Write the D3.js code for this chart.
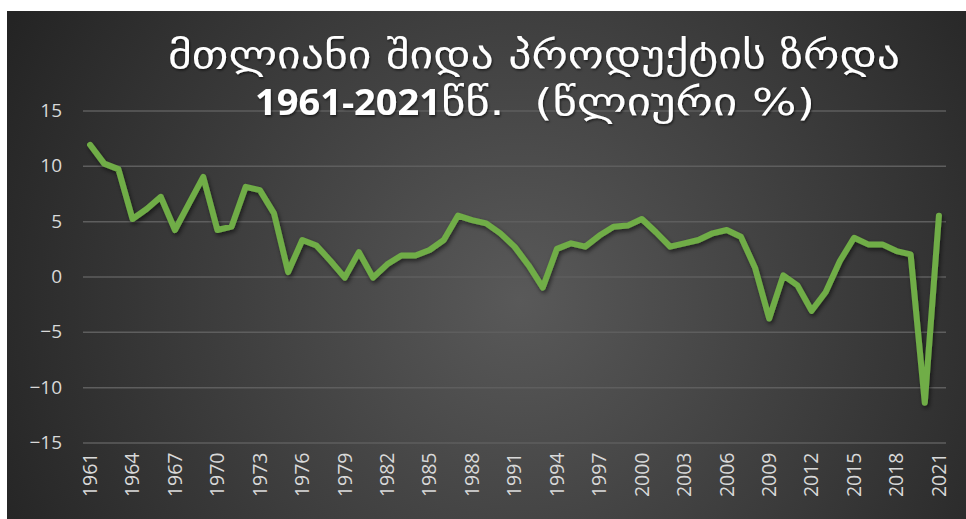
<!DOCTYPE html>
<html lang="ka">
<head>
	<meta charset="UTF-8">
	<title>GDP growth</title>
	<script src="https://cdn.jsdelivr.net/npm/d3@7"></script>
	<style>
		body { margin: 0; background: #fff; }
	</style>
</head>
<body>
	<svg id="svg"></svg>
	<script>
		// data
		var years = d3.range(1961, 2022);
		var growth = [11.9, 10.2, 9.7, 5.2, 6.1, 7.2, 4.2, 6.6, 9.0, 4.2,
			4.5, 8.1, 7.8, 5.7, 0.4, 3.3, 2.8, 1.4, -0.1, 2.2,
			-0.1, 1.1, 1.9, 1.9, 2.4, 3.3, 5.5, 5.1, 4.8, 3.9,
			2.7, 1.0, -1.0, 2.5, 3.0, 2.7, 3.7, 4.5, 4.6, 5.2,
			4.0, 2.7, 3.0, 3.3, 3.9, 4.2, 3.6, 0.8, -3.8, 0.1,
			-0.8, -3.1, -1.4, 1.4, 3.5, 2.9, 2.9, 2.3, 2.0, -11.4,
			5.5];
		var yTicks = [-15, -10, -5, 0, 5, 10, 15];
		var titleLines = ["მთლიანი შიდა პროდუქტის ზრდა", "1961-2021წწ.  (წლიური %)"];

		var w = 966, h = 519,
			svg = d3.select("#svg").attr("width", w).attr("height", h);

		var defs = svg.append("defs");
		var grad = defs.append("radialGradient").attr("id", "bg")
			.attr("gradientUnits", "userSpaceOnUse")
			.attr("cx", 520).attr("cy", 300).attr("r", 580);
		grad.append("stop").attr("offset", "0").attr("stop-color", "#595959");
		grad.append("stop").attr("offset", "1").attr("stop-color", "#242424");

		var shadow = defs.append("filter").attr("id", "shadow")
			.attr("x", "-10%").attr("y", "-10%").attr("width", "120%").attr("height", "120%");
		shadow.append("feDropShadow").attr("dx", 1.5).attr("dy", 2.5)
			.attr("stdDeviation", 2).attr("flood-color", "#000").attr("flood-opacity", 0.55);

		var tshadow = defs.append("filter").attr("id", "tshadow");
		tshadow.append("feDropShadow").attr("dx", 1).attr("dy", 1.5)
			.attr("stdDeviation", 1).attr("flood-color", "#000").attr("flood-opacity", 0.6);

		svg.append("rect").attr("x", 7).attr("y", 11)
			.attr("width", w - 7).attr("height", h - 11)
			.attr("fill", "url(#bg)");

		var x = d3.scaleBand().domain(years).range([83, 946]),
			y = d3.scaleLinear().domain([-15, 15]).range([442.5, 110.5]);

		// y axis + gridlines
		var yAxis = svg.append("g").attr("transform", "translate(83,0)")
			.call(d3.axisLeft(y).tickValues(yTicks).tickSize(-(946 - 83)).tickPadding(21));
		yAxis.select(".domain").remove();
		yAxis.selectAll("line").attr("stroke", "#5e5e5e").attr("stroke-width", 1.5);
		yAxis.selectAll("text").attr("fill", "#d9d9d9")
			.style("font-family", "'Open Sans', sans-serif").style("font-size", "19px");

		// x labels, every third year
		var xAxis = svg.append("g").attr("transform", "translate(0,442.5)")
			.call(d3.axisBottom(x).tickValues(years.filter(function(d) { return (d - 1961) % 3 == 0; }))
				.tickSize(0).tickPadding(0));
		xAxis.select(".domain").remove();
		xAxis.selectAll("text")
			.attr("fill", "#d9d9d9")
			.attr("text-anchor", "end")
			.attr("dy", "0.35em")
			.attr("transform", "translate(0,10) rotate(-90)")
			.attr("y", 0)
			.style("font-family", "'Open Sans', sans-serif").style("font-size", "19.5px");

		// line
		var line = d3.line()
			.x(function(d, i) { return x(years[i]) + x.bandwidth() / 2; })
			.y(function(d) { return y(d); });
		svg.append("path").datum(growth)
			.attr("d", line)
			.attr("fill", "none")
			.attr("stroke", "#70ad47")
			.attr("stroke-width", 6)
			.attr("stroke-linejoin", "round")
			.attr("stroke-linecap", "round")
			.attr("filter", "url(#shadow)");

		// title
		svg.append("text").attr("x", 534).attr("y", 68)
			.attr("text-anchor", "middle").attr("fill", "#fff")
			.attr("textLength", 732).attr("lengthAdjust", "spacingAndGlyphs")
			.attr("filter", "url(#tshadow)")
			.style("font-family", "'DejaVu Sans Condensed', 'DejaVu Sans', sans-serif")
			.style("font-size", "38px")
			.text(titleLines[0]);

		// second line: digits bold, georgian part regular
		var m = titleLines[1].match(/^([0-9\-]+)(.*)$/);
		var t2 = svg.append("text").attr("x", 255).attr("y", 115)
			.attr("fill", "#fff")
			.attr("filter", "url(#tshadow)")
			.style("white-space", "pre");
		t2.append("tspan")
			.attr("textLength", 186).attr("lengthAdjust", "spacingAndGlyphs")
			.style("font-family", "'Open Sans', sans-serif").style("font-weight", "bold")
			.style("font-size", "35px")
			.text(m[1]);
		t2.append("tspan")
			.attr("textLength", 374).attr("lengthAdjust", "spacingAndGlyphs")
			.style("font-family", "'DejaVu Sans Condensed', 'DejaVu Sans', sans-serif")
			.style("font-size", "38px")
			.text(m[2]);
	</script>
</body>
</html>
